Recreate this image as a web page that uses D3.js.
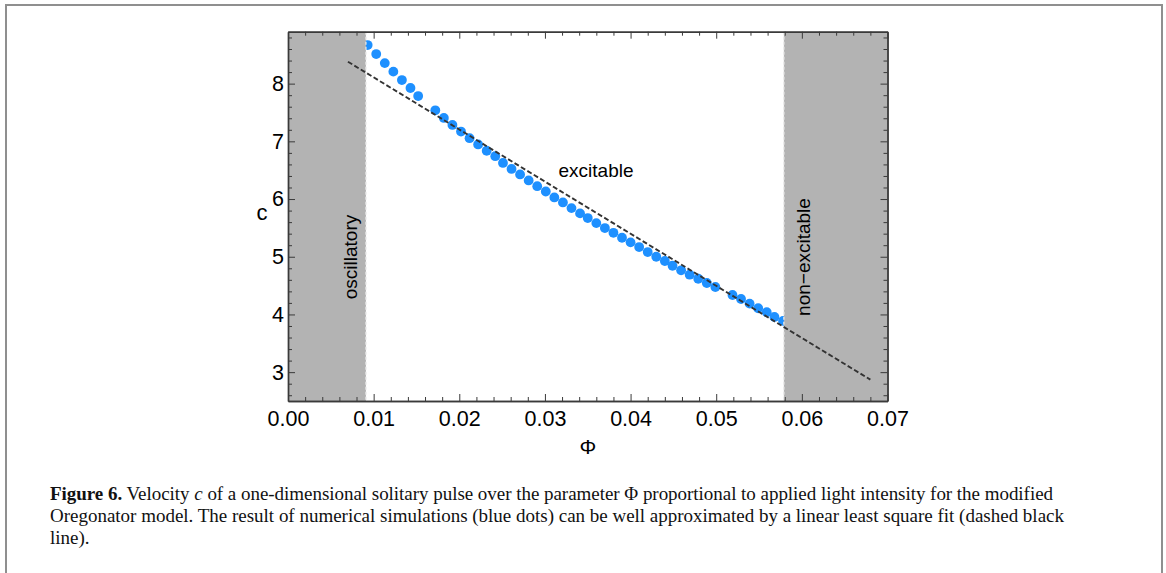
<!DOCTYPE html>
<html><head><meta charset="utf-8">
<script src="https://cdn.jsdelivr.net/npm/d3@7"></script>
<style>
html,body{margin:0;padding:0;background:#fff;}
svg{display:block;}
</style></head>
<body>
<script>
// ---- data ----
const phiValues = [0.0093,0.0103,0.0113,0.0123,0.0133,0.0143,0.0152,
  0.0172,0.0182,0.0192,0.0202,0.0212,0.0222,0.0232,0.0242,0.0251,0.0261,0.0271,0.0281,0.0291,
  0.0301,0.0311,0.0321,0.0331,0.0341,0.0350,0.0360,0.0370,0.0380,0.0390,0.0400,0.0410,0.0420,
  0.0430,0.0440,0.0449,0.0459,0.0469,0.0479,0.0489,0.0499,
  0.0519,0.0529,0.0539,0.0549,0.0559,0.0568,0.0578];
const cValues = [8.668,8.512,8.356,8.208,8.062,7.924,7.785,
  7.538,7.405,7.284,7.170,7.054,6.946,6.837,6.742,6.626,6.522,6.426,6.322,6.223,
  6.131,6.028,5.941,5.843,5.751,5.670,5.583,5.497,5.415,5.329,5.249,5.168,5.081,
  5.000,4.926,4.844,4.765,4.689,4.619,4.545,4.476,
  4.337,4.268,4.187,4.107,4.038,3.957,3.888];
const fitPhi = [0.007, 0.068];
const fitC = [8.38, 2.87];
const regionStart = [0, 0.0091];      // oscillatory
const regionEnd = [0.0579, 0.07];     // non-excitable
const xTicks = [0,0.01,0.02,0.03,0.04,0.05,0.06,0.07];
const xTickLabels = ["0.00","0.01","0.02","0.03","0.04","0.05","0.06","0.07"];
const yTicks = [3,4,5,6,7,8];
const xDomain = [0, 0.07];
const yDomain = [2.5, 8.9];
const regionLabels = ["oscillatory","excitable","non\u2212excitable"];
const captionLines = [
  [["Figure 6.", "bold"], [" Velocity ", ""], ["c", "italic"], [" of a one-dimensional solitary pulse over the parameter \u03A6 proportional to applied light intensity for the modified", ""]],
  [["Oregonator model. The result of numerical simulations (blue dots) can be well approximated by a linear least square fit (dashed black", ""]],
  [["line).", ""]]
];
const captionWidths = [1003, 1014, 0];

// ---- chart ----
const W = 1166, H = 573;
const svg = d3.select("body").append("svg").attr("width", W).attr("height", H);

// outer figure frame
svg.append("path").attr("d", `M6,${H} L6,5 L1162,5 L1162,${H}`)
  .attr("fill","none").attr("stroke","#8f8f8f").attr("stroke-width",2);

const L = 288, R = 887.5, T = 31.7, B = 401;
const x = d3.scaleLinear().domain(xDomain).range([L, R]);
const y = d3.scaleLinear().domain(yDomain).range([B, T]);

const plot = svg.append("g");
plot.append("clipPath").attr("id","clip").append("rect")
  .attr("x",L).attr("y",T).attr("width",R-L).attr("height",B-T);

// dots
plot.append("g").attr("clip-path","url(#clip)").selectAll("circle")
  .data(phiValues.map((p,i)=>[p,cValues[i]]))
  .join("circle")
  .attr("cx", d=>x(d[0])).attr("cy", d=>y(d[1])).attr("r", 4.9)
  .attr("fill", "#1e90ff");

// gray regions
[regionStart, regionEnd].forEach((r, i) => {
  plot.append("rect").attr("x", x(r[0])).attr("y", T)
    .attr("width", x(r[1]) - x(r[0])).attr("height", B - T)
    .attr("fill", "#b3b3b3");
  const bx = i === 0 ? x(r[1]) : x(r[0]);
  plot.append("line").attr("x1", bx).attr("x2", bx).attr("y1", T).attr("y2", B)
    .attr("stroke", "#e8e8e8").attr("stroke-width", 1.3).attr("stroke-dasharray", "3,2");
});

// fit line
plot.append("line")
  .attr("x1", x(fitPhi[0])).attr("y1", y(fitC[0]))
  .attr("x2", x(fitPhi[1])).attr("y2", y(fitC[1]))
  .attr("stroke", "#333").attr("stroke-width", 1.9).attr("stroke-dasharray", "5,2.5");

// axes (frame)
const frameColor = "#3a3a3a";
const minorX = d3.range(0, 0.0701, 0.002).filter(v => !xTicks.some(t => Math.abs(t - v) < 1e-9));
const minorY = d3.range(2.6, 8.81, 0.2).filter(v => !yTicks.some(t => Math.abs(t - v) < 1e-9));

function styleAxis(g) {
  g.selectAll("path.domain").attr("stroke", frameColor).attr("stroke-width", 1.4);
  g.selectAll(".tick line").attr("stroke", frameColor).attr("stroke-width", 1);
  g.selectAll(".tick text").attr("fill", "#000")
    .attr("font-family", "'Liberation Sans', Arial, sans-serif").attr("font-size", 21.5);
}
// bottom
svg.append("g").attr("transform", `translate(0,${B})`)
  .call(d3.axisBottom(x).tickValues(xTicks).tickFormat((d,i)=>xTickLabels[i]).tickSize(-7).tickPadding(10).tickSizeOuter(0))
  .call(styleAxis);
svg.append("g").attr("transform", `translate(0,${B})`)
  .call(d3.axisBottom(x).tickValues(minorX).tickFormat("").tickSize(-4).tickSizeOuter(0))
  .call(styleAxis);
// top
svg.append("g").attr("transform", `translate(0,${T})`)
  .call(d3.axisTop(x).tickValues(xTicks).tickFormat("").tickSize(-7).tickSizeOuter(0)).call(styleAxis);
svg.append("g").attr("transform", `translate(0,${T})`)
  .call(d3.axisTop(x).tickValues(minorX).tickFormat("").tickSize(-4).tickSizeOuter(0)).call(styleAxis);
// left
svg.append("g").attr("transform", `translate(${L},0)`)
  .call(d3.axisLeft(y).tickValues(yTicks).tickFormat(d3.format("d")).tickSize(-7).tickPadding(4).tickSizeOuter(0))
  .call(styleAxis);
svg.append("g").attr("transform", `translate(${L},0)`)
  .call(d3.axisLeft(y).tickValues(minorY).tickFormat("").tickSize(-4).tickSizeOuter(0)).call(styleAxis);
// right
svg.append("g").attr("transform", `translate(${R},0)`)
  .call(d3.axisRight(y).tickValues(yTicks).tickFormat("").tickSize(-7).tickSizeOuter(0)).call(styleAxis);
svg.append("g").attr("transform", `translate(${R},0)`)
  .call(d3.axisRight(y).tickValues(minorY).tickFormat("").tickSize(-4).tickSizeOuter(0)).call(styleAxis);

// axis titles
const sans = "'Liberation Sans', Arial, sans-serif";
svg.append("text").attr("x", 262).attr("y", 220).attr("text-anchor","middle")
  .attr("font-family", sans).attr("font-size", 22).text("c");
svg.append("text").attr("x", 588).attr("y", 454).attr("text-anchor","middle")
  .attr("font-family", sans).attr("font-size", 21).text("\u03A6");

// region labels
svg.append("text").attr("transform", `translate(357,257) rotate(-90)`).attr("text-anchor","middle")
  .attr("font-family", sans).attr("font-size", 19).text(regionLabels[0]);
svg.append("text").attr("x", 596).attr("y", 177).attr("text-anchor","middle")
  .attr("font-family", sans).attr("font-size", 19).text(regionLabels[1]);
svg.append("text").attr("transform", `translate(809.5,257) rotate(-90)`).attr("text-anchor","middle")
  .attr("font-family", sans).attr("font-size", 19).text(regionLabels[2]);

// caption
const serif = "'Liberation Serif', 'Times New Roman', serif";
const capY = [500, 522, 544];
captionLines.forEach((parts, li) => {
  const t = svg.append("text").attr("x", 50).attr("y", capY[li])
    .attr("font-family", serif).attr("font-size", 19).attr("fill", "#111");
  parts.forEach(([s, st]) => {
    const ts = t.append("tspan").text(s);
    if (st === "bold") ts.attr("font-weight", "bold");
    if (st === "italic") ts.attr("font-style", "italic");
  });
  if (captionWidths[li] > 0) {
    const natural = t.node().getComputedTextLength();
    const nChars = parts.map(p=>p[0]).join("").length;
    t.attr("letter-spacing", ((captionWidths[li] - natural) / nChars).toFixed(3) + "px");
  }
});
</script>
</body></html>
